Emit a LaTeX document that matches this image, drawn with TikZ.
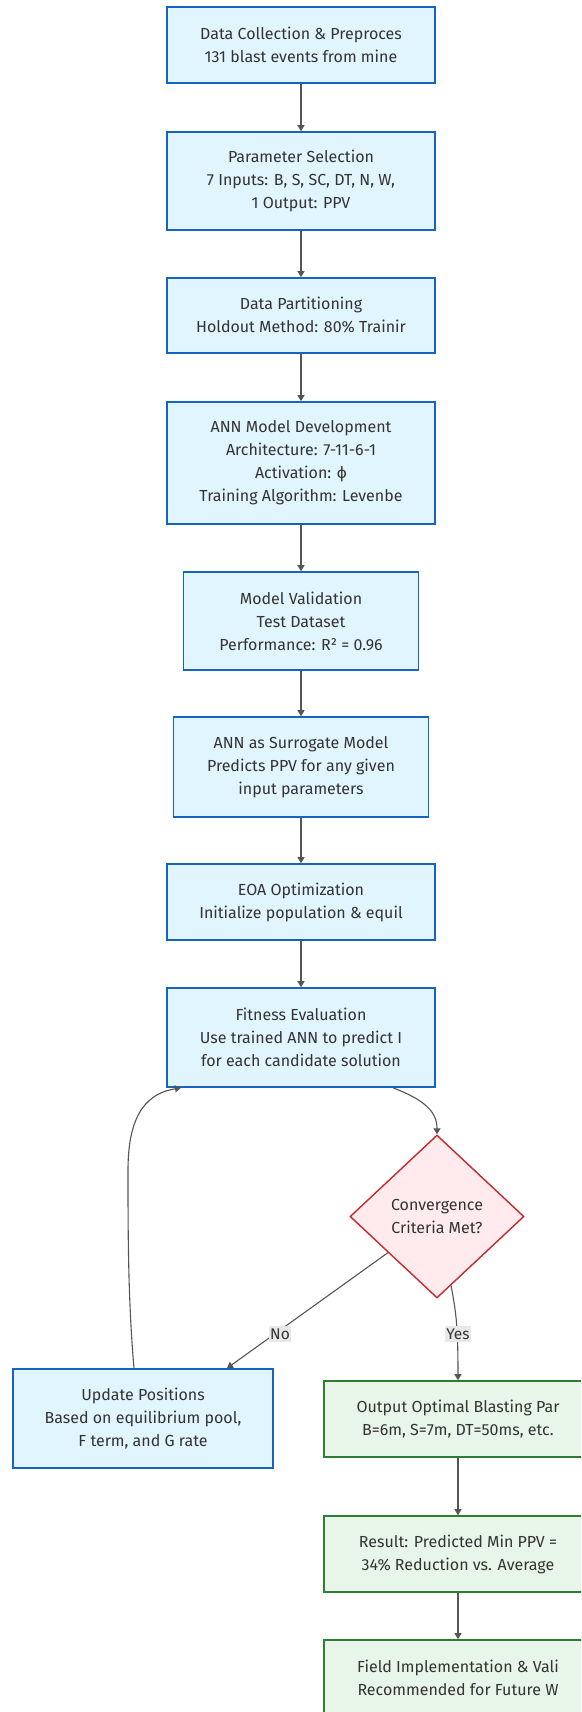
\documentclass[tikz,border=0pt]{standalone}
\usepackage{fontspec}
\setmainfont{Fira Sans}
\usetikzlibrary{arrows.meta,shapes.geometric,calc}
\definecolor{txt}{HTML}{333333}
\definecolor{blueF}{HTML}{E1F5FE}
\definecolor{blueS}{HTML}{1565C0}
\definecolor{redF}{HTML}{FFEBEE}
\definecolor{redS}{HTML}{C62828}
\definecolor{greenF}{HTML}{E8F5E9}
\definecolor{greenS}{HTML}{2E7D32}
\definecolor{edge}{HTML}{555555}
\definecolor{lblF}{HTML}{E8E8E8}
\begin{document}
\begin{tikzpicture}[x=1pt,y=-1pt,
  base/.style={align=center,font=\fontsize{16}{23}\selectfont,text=txt,inner sep=0pt,line width=1.6pt},
  bluebox/.style={base,draw=blueS,fill=blueF,rectangle},
  greenbox/.style={base,draw=greenS,fill=greenF,rectangle},
  decision/.style={base,draw=redS,fill=redF,diamond,line width=1.4pt},
  arr/.style={draw=edge,line width=1.1pt,-{Triangle[width=7pt,length=6pt]}},
  lbl/.style={fill=lblF,text=txt,font=\fontsize{15.5}{17}\selectfont,inner xsep=1pt,inner ysep=3pt}
]
\useasboundingbox (0,0) rectangle (581,1712);
\fill[white] (0,0) rectangle (581,1712);
\clip (0,0) rectangle (581,1712);

\node[bluebox,minimum width=268pt,minimum height=76pt] (b1) at (301,45)
  {Data Collection \& Preproces\\131 blast events from mine};
\node[bluebox,minimum width=268pt,minimum height=98pt] (b2) at (301,181)
  {Parameter Selection\\7 Inputs: B, S, SC, DT, N, W,\\1 Output: PPV};
\node[bluebox,minimum width=268pt,minimum height=75pt] (b3) at (301,315.5)
  {Data Partitioning\\Holdout Method: 80\% Trainir};
\node[bluebox,minimum width=268pt,minimum height=122pt] (b4) at (301,463)
  {ANN Model Development\\Architecture: 7-11-6-1\\Activation: ϕ\\Training Algorithm: Levenbe};
\node[bluebox,minimum width=235pt,minimum height=98pt] (b5) at (301,621)
  {Model Validation\\Test Dataset\\Performance: R² = 0.96};
\node[bluebox,minimum width=255pt,minimum height=100pt] (b6) at (301,767)
  {ANN as Surrogate Model\\Predicts PPV for any given\\input parameters};
\node[bluebox,minimum width=268pt,minimum height=76pt] (b7) at (301,902)
  {EOA Optimization\\Initialize population \& equil};
\node[bluebox,minimum width=268pt,minimum height=99pt] (b8) at (301,1037.5)
  {Fitness Evaluation\\Use trained ANN to predict I\\for each candidate solution};
\node[decision,minimum width=174pt,minimum height=163pt] (d) at (437,1216.5)
  {Convergence\\Criteria Met?};
\node[bluebox,minimum width=260pt,minimum height=99pt] (u) at (143,1418.5)
  {Update Positions\\Based on equilibrium pool,\\F term, and G rate};
\node[greenbox,minimum width=268pt,minimum height=76pt] (o1) at (458,1419)
  {Output Optimal Blasting Par\\B=6m, S=7m, DT=50ms, etc.};
\node[greenbox,minimum width=268pt,minimum height=76pt] (o2) at (458,1554)
  {Result: Predicted Min PPV =\\34\% Reduction vs. Average};
\node[greenbox,minimum width=268pt,minimum height=76pt] (o3) at (458,1678)
  {Field Implementation \& Vali\\Recommended for Future W};

\draw[arr] (b1) -- (b2);
\draw[arr] (b2) -- (b3);
\draw[arr] (b3) -- (b4);
\draw[arr] (b4) -- (b5);
\draw[arr] (b5) -- (b6);
\draw[arr] (b6) -- (b7);
\draw[arr] (b7) -- (b8);
\draw[arr] ([xshift=92pt]b8.south) .. controls (425,1100) and (437,1112) .. (d.north);
\draw[arr] ($(d.west)!0.44!(d.south)$) -- ([xshift=84pt]u.north);
\draw[arr] ($(d.east)!0.84!(d.south)$) .. controls (456,1312) and (458,1325) .. (o1.north);
\draw[arr] ([xshift=-9pt]u.north) .. controls (128,1300) and (128,1230) .. (128,1170)
  .. controls (128,1110) and (150,1093) .. ([xshift=-120pt]b8.south);
\draw[arr] (o1) -- (o2);
\draw[arr] (o2) -- (o3);

\node[lbl] (lno) at (280,1334) {No};
\node[lbl] (lyes) at (458,1334) {Yes};
\end{tikzpicture}
\end{document}
